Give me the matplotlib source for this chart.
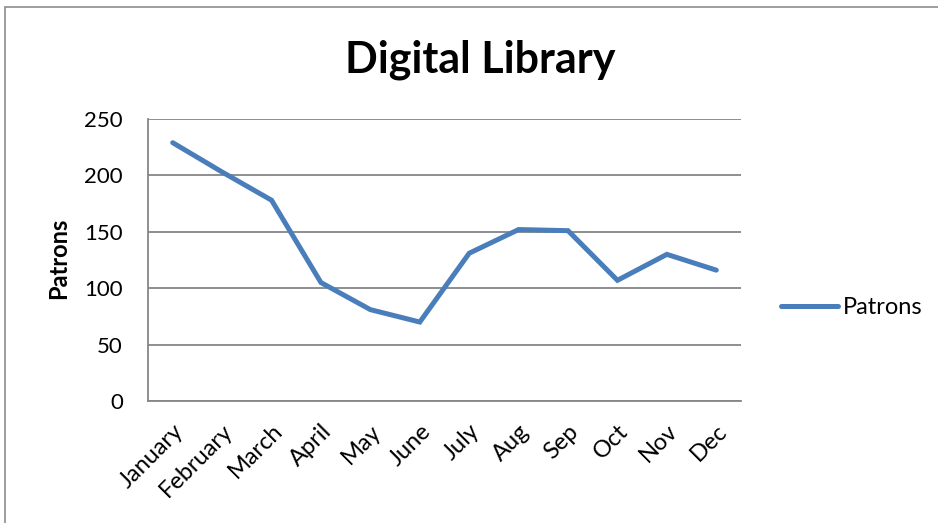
import matplotlib.pyplot as plt
from matplotlib.patches import Rectangle

plt.rcParams['font.family'] = ['Lato', 'DejaVu Sans']

months = ['January', 'February', 'March', 'April', 'May', 'June',
          'July', 'Aug', 'Sep', 'Oct', 'Nov', 'Dec']
patrons = [229, 203, 178, 105, 81, 70, 131, 152, 151, 107, 130, 116]
yticks = [0, 50, 100, 150, 200, 250]

fig = plt.figure(figsize=(9.38, 5.23), dpi=100)
fig.patches.append(Rectangle((5 / 938, -0.1), 1.2, 1.1 - 7 / 523, transform=fig.transFigure,
                             fill=False, edgecolor='#8c8c8c', linewidth=1.2))

ax = fig.add_axes([148 / 938, 1 - 401 / 523, (741 - 148) / 938, (401 - 119) / 523])
x = range(len(months))
ax.plot(x, patrons, color='#4a7ebb', linewidth=3.6, label='Patrons',
        solid_joinstyle='miter', solid_capstyle='round')

ax.set_xlim(-0.5, len(months) - 0.5)
ax.set_ylim(0, 250)
ax.set_yticks(yticks)
ax.yaxis.grid(True, color='#868686', linewidth=1.3)
ax.set_axisbelow(True)
for s in ['top', 'right']:
    ax.spines[s].set_visible(False)
for s in ['left', 'bottom']:
    ax.spines[s].set_color('#868686')
    ax.spines[s].set_linewidth(1.3)
ax.tick_params(axis='both', length=0)
ax.tick_params(axis='y', pad=18, labelsize=16)
ax.set_xticks(list(x))
ax.set_xticklabels(months, rotation=45, ha='right', va='top', rotation_mode='anchor')
ax.tick_params(axis='x', pad=14, labelsize=17)

fig.text(59 / 938, 1 - 258 / 523, 'Patrons', fontsize=17, fontweight='bold',
         rotation=90, ha='center', va='center')
fig.text(480 / 938, 1 - 73 / 523, 'Digital Library', fontsize=31, fontweight='bold',
         ha='center', va='baseline')

ax.legend(loc='center left', bbox_to_anchor=(781 / 938, 1 - 308 / 523),
          bbox_transform=fig.transFigure, frameon=False, fontsize=17,
          handlelength=2.4, handletextpad=0.2, borderpad=0, borderaxespad=0)

fig.savefig('out.png', dpi=100)
